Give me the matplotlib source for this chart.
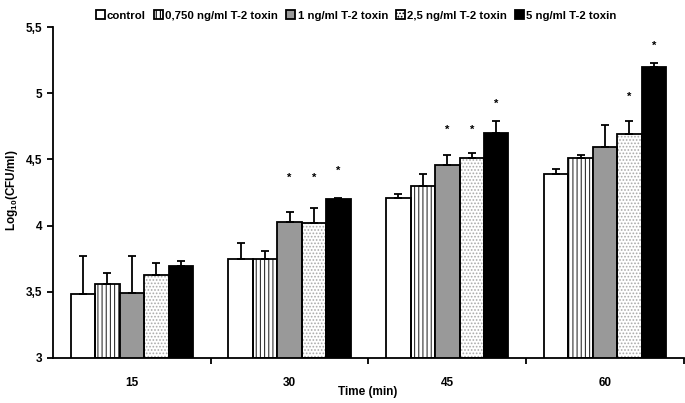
import numpy as np
import matplotlib.pyplot as plt

plt.rcParams['font.family'] = ['Liberation Sans', 'DejaVu Sans']
plt.rcParams['font.weight'] = 'bold'
plt.rcParams['mathtext.fontset'] = 'custom'
plt.rcParams['mathtext.rm'] = 'Liberation Sans:bold'
plt.rcParams['mathtext.bf'] = 'Liberation Sans:bold'
plt.rcParams['hatch.linewidth'] = 0.8

# data
times = ['15', '30', '45', '60']
series = ['control', '0,750 ng/ml T-2 toxin', '1 ng/ml T-2 toxin',
          '2,5 ng/ml T-2 toxin', '5 ng/ml T-2 toxin']
control = [3.48, 3.745, 4.205, 4.39]
t2_0750 = [3.56, 3.75, 4.30, 4.51]
t2_1 = [3.49, 4.025, 4.46, 4.59]
t2_25 = [3.63, 4.02, 4.51, 4.69]
t2_5 = [3.695, 4.20, 4.70, 5.20]

err_control = [0.29, 0.125, 0.035, 0.04]
err_0750 = [0.08, 0.06, 0.09, 0.02]
err_1 = [0.28, 0.075, 0.07, 0.17]
err_25 = [0.09, 0.11, 0.04, 0.10]
err_5 = [0.035, 0.01, 0.09, 0.03]

# significance stars: (series index, time index, height)
stars = [(2, 1, 4.36), (3, 1, 4.36), (4, 1, 4.41),
         (2, 2, 4.72), (3, 2, 4.72), (4, 2, 4.92),
         (3, 3, 4.97), (4, 3, 5.36)]

values = [control, t2_0750, t2_1, t2_25, t2_5]
errors = [err_control, err_0750, err_1, err_25, err_5]
faces = ['white', 'white', '#999999', 'white', 'black']
hatches = [None, '||||', None, '.....', None]
hatch_cols = [None, '#333333', None, '#aaaaaa', None]

fig = plt.figure(figsize=(6.85, 4.03), dpi=100)
ax = fig.add_axes([0.0774, 0.1117, 0.921, 0.8213])

x = np.arange(len(times))
w = 0.155
handles = []
for i in range(5):
    pos = x + (i - 2) * w
    if hatches[i]:
        ax.bar(pos, np.array(values[i]) - 3, w, bottom=3, color=faces[i],
               hatch=hatches[i], edgecolor=hatch_cols[i], linewidth=0, zorder=2)
    ax.bar(pos, np.array(values[i]) - 3, w, bottom=3,
           facecolor=faces[i] if not hatches[i] else 'none',
           edgecolor='black', linewidth=1.3, zorder=3)
    ax.errorbar(pos, values[i], yerr=[np.zeros(4), errors[i]], fmt='none',
                ecolor='black', elinewidth=1.3, capsize=3, capthick=1.3, zorder=4)
    h = plt.Rectangle((0, 0), 1, 1, facecolor=faces[i], edgecolor='black',
                      linewidth=1.3, hatch=hatches[i])
    handles.append(h)

for si, ti, yv in stars:
    ax.text(x[ti] + (si - 2) * w, yv, '*', ha='center', va='center', fontsize=8)

ax.set_xlim(-0.5, 3.5)
ax.set_ylim(3, 5.5)
ax.set_yticks([3, 3.5, 4, 4.5, 5, 5.5])
ax.set_yticklabels(['3', '3,5', '4', '4,5', '5', '5,5'], fontsize=8.5, fontweight='bold')
ax.set_xticks(x)
ax.set_xticklabels(times, fontsize=8.5, fontweight='bold')
ax.tick_params(axis='x', which='major', length=0, pad=14)
ax.set_xticks([0.5, 1.5, 2.5, 3.5], minor=True)
ax.tick_params(axis='x', which='minor', length=4, width=1.3, direction='out')
ax.tick_params(axis='y', length=4, width=1.3, direction='out')
for s in ['top', 'right']:
    ax.spines[s].set_visible(False)
for s in ['left', 'bottom']:
    ax.spines[s].set_linewidth(1.3)

fig.text(368 / 685, 1 - 392 / 403, 'Time (min)', ha='center', va='center',
         fontsize=8.5, fontweight='bold')
fig.text(12 / 685, 1 - 190 / 403, 'Log$_{10}$(CFU/ml)', ha='center', va='center',
         rotation=90, fontsize=8.5, fontweight='bold')

fig.legend(handles, series, loc='upper center', bbox_to_anchor=(0.52, 1.0), ncol=5,
           frameon=False, prop={'size': 8.2, 'weight': 'bold'},
           handlelength=0.8, handleheight=0.8, handletextpad=0.2, columnspacing=0.7)

fig.savefig('out.png', dpi=100)
